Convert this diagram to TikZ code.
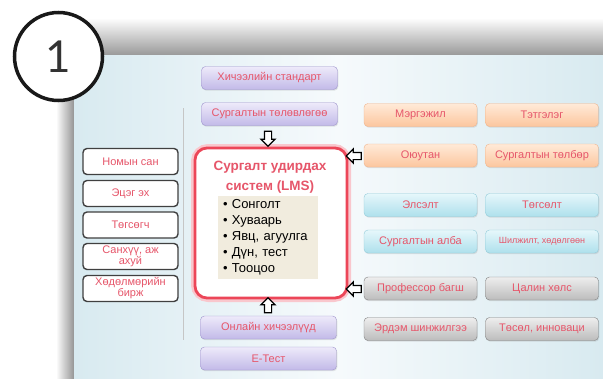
\documentclass[tikz,border=0pt]{standalone}
\usepackage{fontspec}
\setmainfont{Liberation Sans}
\newfontfamily\numfont{Lato}
\usetikzlibrary{shapes.arrows,shadows}

\definecolor{labelred}{RGB}{230,86,106}
\definecolor{lmsred}{RGB}{236,70,88}
\definecolor{menubeige}{RGB}{241,236,222}
\definecolor{purpletop}{RGB}{238,234,250}
\definecolor{purplebot}{RGB}{194,186,232}
\definecolor{purpleline}{RGB}{158,148,204}
\definecolor{orangetop}{RGB}{255,234,216}
\definecolor{orangebot}{RGB}{252,198,158}
\definecolor{orangeline}{RGB}{240,180,140}
\definecolor{cyantop}{RGB}{230,247,251}
\definecolor{cyanbot}{RGB}{174,224,236}
\definecolor{cyanline}{RGB}{148,204,218}
\definecolor{graytop}{RGB}{238,238,238}
\definecolor{graybot}{RGB}{188,188,188}
\definecolor{grayline}{RGB}{128,128,128}
\definecolor{slideside}{RGB}{216,234,240}
\definecolor{slidemid}{RGB}{246,250,252}

\tikzset{
  tab/.style={rounded corners=4pt, minimum height=23pt, inner sep=1pt, text=labelred,
    font=\fontsize{11}{12}\selectfont,
    drop shadow={opacity=0.2, shadow xshift=0.8pt, shadow yshift=-1.2pt}},
  purplebox/.style={tab, draw=purpleline, top color=purpletop, bottom color=purplebot, minimum width=136pt},
  orangebox/.style={tab, draw=orangeline, top color=orangetop, bottom color=orangebot, minimum width=113pt},
  cyanbox/.style={tab, draw=cyanline, top color=cyantop, bottom color=cyanbot, minimum width=113pt},
  graybox/.style={tab, draw=grayline, top color=graytop, bottom color=graybot, minimum width=113pt},
  sidebox/.style={draw=black!75, line width=1.4pt, fill=white, rounded corners=4pt,
    minimum width=95pt, minimum height=26pt, inner sep=0pt, align=center, text=labelred,
    font=\fontsize{11}{11}\selectfont},
  hollow/.style={single arrow, draw=black, fill=white, line width=1.2pt, inner sep=3pt,
    minimum height=15pt, single arrow head extend=3.5pt}
}

\begin{document}
\begin{tikzpicture}[x=1pt,y=-1pt]
\useasboundingbox (0,0) rectangle (603,378);
\fill[white] (0,0) rectangle (603,378);
\fill[top color=white, bottom color=black!40] (60,18) rectangle (603,55);
\fill[left color=white, right color=black!42] (56,55) rectangle (74,378);
\fill[left color=slideside, right color=slideside, middle color=slidemid] (74,55) rectangle (603,378);
\draw[gray!45, line width=0.6pt] (183,108) -- (183,340);

\node[draw=black!90, line width=3.5pt, circle, fill=white, minimum size=88pt, inner sep=0pt,
  text=black!80, font=\numfont\fontsize{44}{44}\selectfont] (num) at (58.5,56.5) {1};

\node[purplebox] (std) at (269.5,78) {Хичээлийн стандарт};
\node[purplebox] (plan) at (269.5,114) {Сургалтын төлөвлөгөө};
\node[purplebox] (online) at (268.5,327.5) {Онлайн хичээлүүд};
\node[purplebox] (etest) at (268.5,358.5) {E-Тест};

\node[draw=lmsred!30, line width=8pt, rounded corners=13pt, minimum width=152pt, minimum height=150pt] (glow) at (271,223) {};
\node[draw=lmsred, line width=2.8pt, fill=white, rounded corners=12pt, minimum width=152pt, minimum height=150pt] (lms) at (271,223) {};
\node[align=center, text=labelred, font=\bfseries\fontsize{13.5}{20}\selectfont] (title) at (270,177) {Сургалт удирдах\\систем (LMS)};
\node[fill=menubeige, text width=90pt, minimum height=81pt, inner xsep=5pt, align=left,
  font=\fontsize{13}{16}\selectfont] (menu) at (268,237.5)
  {\textbullet\ Сонголт\\\textbullet\ Хуваарь\\\textbullet\ Явц, агуулга\\\textbullet\ Дүн, тест\\\textbullet\ Тооцоо};

\node[sidebox] (lib) at (130.5,161.5) {Номын сан};
\node[sidebox] (parent) at (130.5,193.5) {Эцэг эх};
\node[sidebox] (grad) at (130.5,225) {Төгсөгч};
\node[sidebox] (fin) at (130.5,256.5) {Санхүү, аж\\ахуй};
\node[sidebox] (labor) at (130.5,288.5) {Хөдөлмөрийн\\бирж};

\node[orangebox] (major) at (420.5,115) {Мэргэжил};
\node[orangebox] (grant) at (542,115) {Тэтгэлэг};
\node[orangebox] (student) at (420.5,155.5) {Оюутан};
\node[orangebox] (fee) at (542,155.5) {Сургалтын төлбөр};
\node[cyanbox] (admit) at (420.5,205) {Элсэлт};
\node[cyanbox] (finish) at (542,205) {Төгсөлт};
\node[cyanbox] (office) at (420.5,241.5) {Сургалтын алба};
\node[cyanbox, font=\fontsize{9}{10}\selectfont] (move) at (542,241.5) {Шилжилт, хөдөлгөөн};
\node[graybox] (prof) at (420.5,288.5) {Профессор багш};
\node[graybox] (salary) at (542,288.5) {Цалин хөлс};
\node[graybox] (research) at (420.5,329) {Эрдэм шинжилгээ};
\node[graybox] (project) at (542,329) {Төсөл, инноваци};

\node[hollow, shape border rotate=270] (a1) at (268,137) {};
\node[hollow, shape border rotate=90] (a2) at (268,307) {};
\node[hollow, shape border rotate=180] (a3) at (355.5,156) {};
\node[hollow, shape border rotate=180] (a4) at (355.5,289) {};
\end{tikzpicture}
\end{document}
